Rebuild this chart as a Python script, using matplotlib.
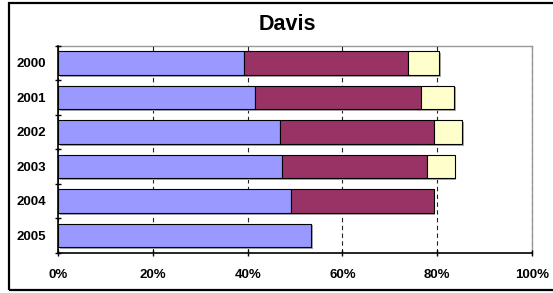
import matplotlib
matplotlib.use("Agg")
import matplotlib.pyplot as plt
from matplotlib.patches import Rectangle
import numpy as np

years = ["2000", "2001", "2002", "2003", "2004", "2005"]
series_a = [39.3, 41.6, 46.8, 47.3, 49.2, 53.4]
series_b = [34.5, 35.1, 32.6, 30.6, 30.1, 0.0]
series_c = [6.6, 6.9, 5.9, 5.8, 0.0, 0.0]
colors = ["#9999FF", "#993366", "#FFFFCC"]
xticks = [0, 20, 40, 60, 80, 100]

plt.rcParams['font.family'] = ['Liberation Sans', 'DejaVu Sans']

W, H = 553, 293
fig = plt.figure(figsize=(W / 100, H / 100), dpi=100)
fig.patches.append(Rectangle((9 / W, 3 / H), 560 / W, 287.5 / H, transform=fig.transFigure,
                             fill=False, edgecolor='black', linewidth=1.6, zorder=10))
ax = fig.add_axes([58.3 / W, (H - 252.7) / H, 473.4 / W, 207 / H])

y = np.arange(len(years))
h = 0.69
left = np.zeros(len(years))
for vals in [series_a, series_b, series_c]:
    vals = np.array(vals)
    mask = vals > 0
    ax.barh(y[mask] + 0.05, vals[mask], height=h, left=left[mask] + 0.35,
            color='#a8a8a8', edgecolor='none', zorder=1)
    left = left + vals
left = np.zeros(len(years))
for vals, c in zip([series_a, series_b, series_c], colors):
    vals = np.array(vals)
    mask = vals > 0
    ax.barh(y[mask], vals[mask], height=h, left=left[mask], color=c,
            edgecolor='black', linewidth=0.8, zorder=3)
    left = left + vals

ax.set_xlim(0, 100)
ax.set_ylim(len(years) - 0.5, -0.5)
ax.set_xticks(xticks)
ax.set_xticklabels([f"{t}%" for t in xticks], fontsize=9.5, fontweight='bold')
ax.set_yticks(y)
ax.set_yticklabels(years, fontsize=9.5, fontweight='bold')
ax.tick_params(axis='y', length=0, pad=8.5)
ax.set_yticks(np.arange(-0.5, len(years)), minor=True)
ax.tick_params(axis='y', which='minor', length=5, direction='inout', width=1)
ax.tick_params(axis='x', length=5, direction='inout', width=1, pad=9.5)
ax.xaxis.grid(True, color='#222222', linestyle=(0, (4, 3)), linewidth=0.8, zorder=0.5)
ax.set_axisbelow(True)
for s in ['top', 'right']:
    ax.spines[s].set_color('#999999')
    ax.spines[s].set_linewidth(1)
    ax.spines[s].set_zorder(0.2)
for s in ['left', 'bottom']:
    ax.spines[s].set_color('black')
    ax.spines[s].set_linewidth(1.2)

fig.text(287 / W, 1 - 25 / H, "Davis", fontsize=15.5, fontweight='bold', ha='center', va='center')

fig.savefig("out.png", dpi=100)
